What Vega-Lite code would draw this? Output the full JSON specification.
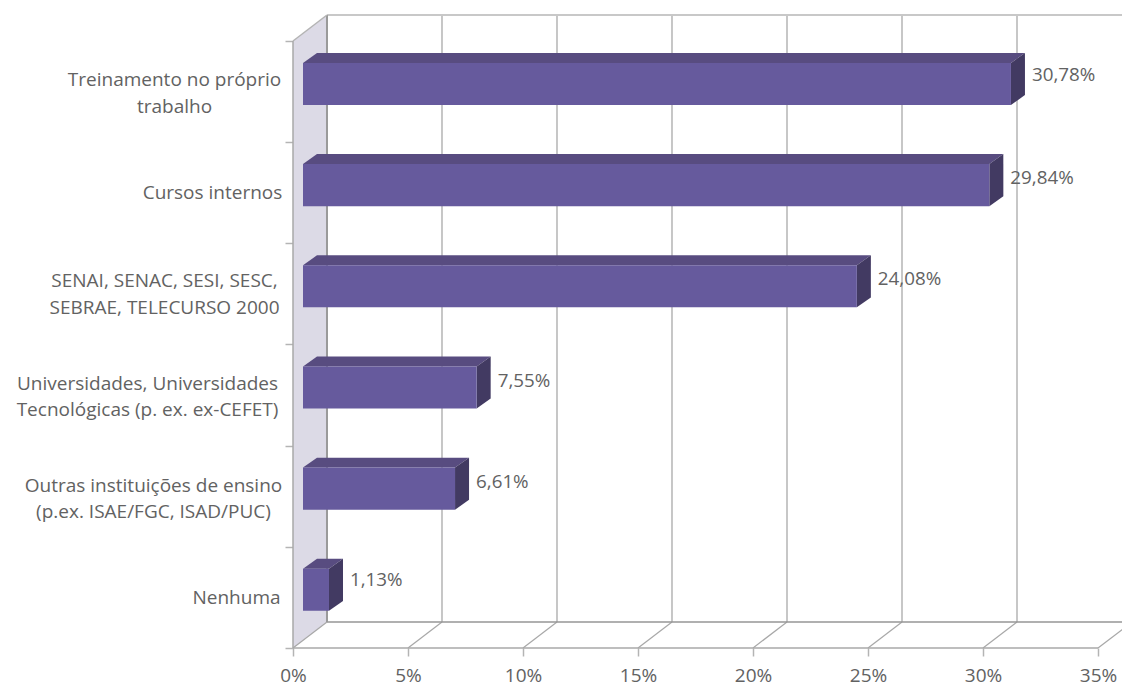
{
"$schema":"https://vega.github.io/schema/vega-lite/v6.json",
"width":829,"height":633,
"autosize":"none",
"padding":{"left":293,"top":15,"right":0,"bottom":38},
"background":"white",
"config":{"view":{"stroke":null},"text":{"font":"Open Sans"}},
"datasets":{
"bars":[
{"label":"Treinamento no próprio trabalho","value":30.78,"rank":5},
{"label":"Cursos internos","value":29.84,"rank":4},
{"label":"SENAI, SENAC, SESI, SESC, SEBRAE, TELECURSO 2000","value":24.08,"rank":3},
{"label":"Universidades, Universidades Tecnológicas (p. ex. ex-CEFET)","value":7.55,"rank":2},
{"label":"Outras instituições de ensino (p.ex. ISAE/FGC, ISAD/PUC)","value":6.61,"rank":1},
{"label":"Nenhuma","value":1.13,"rank":0}
],
"ticks":[{"pct":0},{"pct":5},{"pct":10},{"pct":15},{"pct":20},{"pct":25},{"pct":30},{"pct":35}],
"depth":[{"d":0},{"d":1}]
},
"encoding":{
"x":{"field":"x","type":"quantitative","scale":{"domain":[0,36.043],"nice":false,"zero":false},
"axis":{"title":null,"orient":"bottom","domain":false,"grid":false,"values":[0,5,10,15,20,25,30,35],"labelExpr":"datum.value+'%'","tickSize":8,"tickColor":"#b4b4b4","tickWidth":1.5,"labelFont":"Open Sans","labelFontSize":19,"labelColor":"#626262","labelPadding":10,"labelFlush":false,"labelOverlap":false}},
"y":{"field":"y","type":"quantitative","scale":{"domain":[0,6.257],"nice":false,"zero":false},
"axis":{"title":null,"orient":"left","domain":false,"grid":false,"values":[0,0.5,1,1.5,2,2.5,3,3.5,4,4.5,5,5.5,6],
"labelExpr":"datum.value==5.5?['Treinamento no próprio','trabalho']:datum.value==4.5?'Cursos internos':datum.value==3.5?['SENAI, SENAC, SESI, SESC,','SEBRAE, TELECURSO 2000']:datum.value==2.5?['Universidades, Universidades','Tecnológicas (p. ex. ex-CEFET)']:datum.value==1.5?['Outras instituições de ensino','(p.ex. ISAE/FGC, ISAD/PUC)']:datum.value==0.5?'Nenhuma':''",
"tickSize":8,"tickColor":"#b4b4b4","tickWidth":1.5,
"tickOpacity":{"condition":{"test":"datum.value%1==0","value":1},"value":0},
"labelAlign":"center","labelBaseline":"middle","labelFont":"Open Sans","labelFontSize":19,"labelColor":"#626262","labelLineHeight":26.5,"labelOverlap":false,"labelFlush":false,"labelLimit":400,
"labelOffset":{"condition":[{"test":"datum.value==5.5","value":-12},{"test":"datum.value==3.5","value":-13},{"test":"datum.value==2.5","value":-12},{"test":"datum.value==1.5","value":-11}],"value":0},
"labelPadding":{"condition":[{"test":"datum.value==5.5","value":111},{"test":"datum.value==4.5","value":73},{"test":"datum.value==3.5","value":121},{"test":"datum.value==2.5","value":138},{"test":"datum.value==1.5","value":132}],"value":49}}}
},
"layer":[
{"data":{"name":"depth"},"transform":[{"calculate":"datum.d*1.478","as":"x"},{"calculate":"datum.d*0.257","as":"y"},{"calculate":"6+datum.d*0.257","as":"y2"}],
"mark":{"type":"area","orient":"vertical","color":"#dcdae6"},"encoding":{"y2":{"field":"y2"}}},
{"data":{"name":"ticks"},"transform":[{"filter":"datum.pct>0&&datum.pct<35"},{"calculate":"datum.pct+1.478","as":"x"},{"calculate":"0.257","as":"y"},{"calculate":"6.257","as":"y2"}],
"mark":{"type":"rule","color":"#b4b4b4","strokeWidth":1.5},"encoding":{"y2":{"field":"y2"}}},
{"data":{"name":"ticks"},"transform":[{"calculate":"datum.pct","as":"x"},{"calculate":"datum.pct+1.478","as":"x2"},{"calculate":"0","as":"y"},{"calculate":"0.257","as":"y2"}],
"mark":{"type":"rule","color":"#a8a8a8","strokeWidth":1.2},"encoding":{"x2":{"field":"x2"},"y2":{"field":"y2"}}},
{"data":{"values":[{"edge":"front"}]},"transform":[{"calculate":"0","as":"x"},{"calculate":"35","as":"x2"},{"calculate":"0","as":"y"}],
"mark":{"type":"rule","color":"#a8a8a8","strokeWidth":1.5},"encoding":{"x2":{"field":"x2"}}},
{"data":{"values":[{"edge":"floor"}]},"transform":[{"calculate":"1.478","as":"x"},{"calculate":"36.478","as":"x2"},{"calculate":"0.257","as":"y"}],
"mark":{"type":"rule","color":"#969696","strokeWidth":1.5},"encoding":{"x2":{"field":"x2"}}},
{"data":{"values":[{"edge":"top"}]},"transform":[{"calculate":"1.478","as":"x"},{"calculate":"36.478","as":"x2"},{"calculate":"6.257","as":"y"}],
"mark":{"type":"rule","color":"#c8c8c8","strokeWidth":2},"encoding":{"x2":{"field":"x2"}}},
{"data":{"values":[{"edge":"left"}]},"transform":[{"calculate":"0","as":"x"},{"calculate":"0","as":"y"},{"calculate":"6","as":"y2"}],
"mark":{"type":"rule","color":"#a8a8a8","strokeWidth":1.5},"encoding":{"y2":{"field":"y2"}}},
{"data":{"values":[{"edge":"back"}]},"transform":[{"calculate":"1.478","as":"x"},{"calculate":"0.257","as":"y"},{"calculate":"6.257","as":"y2"}],
"mark":{"type":"rule","color":"#9a9a9a","strokeWidth":2},"encoding":{"y2":{"field":"y2"}}},
{"data":{"values":[{"edge":"topdiag"}]},"transform":[{"calculate":"0","as":"x"},{"calculate":"1.478","as":"x2"},{"calculate":"6","as":"y"},{"calculate":"6.257","as":"y2"}],
"mark":{"type":"rule","color":"#b4b4b4","strokeWidth":1.5},"encoding":{"x2":{"field":"x2"},"y2":{"field":"y2"}}},
{"data":{"name":"bars"},"transform":[{"calculate":"[0,1]","as":"d"},{"flatten":["d"]},{"calculate":"0.435+datum.d*0.609","as":"x"},{"calculate":"0.435+datum.value+datum.d*0.609","as":"x2"},{"calculate":"datum.rank+0.783+datum.d*0.0988","as":"y"}],
"mark":{"type":"area","orient":"horizontal","color":"#584c80"},"encoding":{"x2":{"field":"x2"},"detail":{"field":"label"}}},
{"data":{"name":"bars"},"transform":[{"calculate":"[0,1]","as":"d"},{"flatten":["d"]},{"calculate":"0.435+datum.value+datum.d*0.609","as":"x"},{"calculate":"datum.rank+0.367+datum.d*0.0988","as":"y"},{"calculate":"datum.rank+0.783+datum.d*0.0988","as":"y2"}],
"mark":{"type":"area","orient":"vertical","color":"#423a62"},"encoding":{"y2":{"field":"y2"},"detail":{"field":"label"}}},
{"data":{"name":"bars"},"transform":[{"calculate":"0.435","as":"x"},{"calculate":"0.435+datum.value","as":"x2"},{"calculate":"datum.rank+0.367","as":"y"},{"calculate":"datum.rank+0.783","as":"y2"}],
"mark":{"type":"rect","color":"#665a9d"},"encoding":{"x2":{"field":"x2"},"y2":{"field":"y2"}}},
{"data":{"name":"bars"},"transform":[{"calculate":"1.044+datum.value","as":"x"},{"calculate":"datum.rank+0.675-[0,0.03,0.04,0.03,0.03,0.01][datum.rank]","as":"y"},{"calculate":"replace(format(datum.value,'.2f'),'.',',')+'%'","as":"txt"}],
"mark":{"type":"text","align":"left","baseline":"middle","dx":7,"font":"Open Sans","fontSize":18.8,"color":"#626262"},"encoding":{"text":{"field":"txt"}}}
]
}
